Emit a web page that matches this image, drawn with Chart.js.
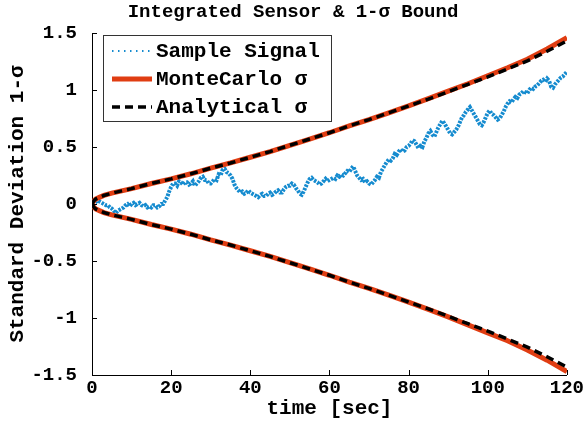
<!DOCTYPE html>
<html>
<head>
<meta charset="utf-8">
<title>Integrated Sensor</title>
<script src="https://cdn.jsdelivr.net/npm/chart.js@4.4.1/dist/chart.umd.min.js"></script>
<style>
  body { margin: 0; background: #fff; }
  #SensorChart { display: block; }
</style>
</head>
<body>
<canvas id="SensorChart" width="586" height="424"></canvas>
<script>
// integrated sensor output, one sample every 0.5 s from 0 to 120 s
var sampleStep = 0.5;
var sampleSignal = [
    0.00, 0.01, 0.02, 0.03, 0.02, 0.01, 0.00, -0.01, -0.01, -0.03, -0.04, -0.06, -0.08, -0.06, -0.05, -0.04, -0.03, -0.01, 0.00, -0.02,
    0.00, 0.01, -0.01, 0.00, 0.01, -0.01, -0.02, -0.01, -0.03, -0.02, -0.03, -0.01, -0.01, -0.03, -0.02, 0.00, 0.00, 0.03, 0.06, 0.11,
    0.15, 0.18, 0.18, 0.16, 0.20, 0.19, 0.17, 0.19, 0.19, 0.17, 0.18, 0.20, 0.16, 0.18, 0.20, 0.23, 0.24, 0.21, 0.21, 0.18,
    0.18, 0.20, 0.22, 0.21, 0.26, 0.25, 0.30, 0.31, 0.28, 0.27, 0.25, 0.22, 0.17, 0.14, 0.12, 0.10, 0.11, 0.09, 0.10, 0.12,
    0.10, 0.09, 0.08, 0.07, 0.06, 0.08, 0.09, 0.07, 0.07, 0.09, 0.10, 0.08, 0.09, 0.11, 0.12, 0.10, 0.10, 0.13, 0.15, 0.16,
    0.16, 0.18, 0.17, 0.14, 0.12, 0.09, 0.08, 0.11, 0.15, 0.19, 0.22, 0.23, 0.21, 0.20, 0.19, 0.17, 0.18, 0.20, 0.22, 0.20,
    0.21, 0.22, 0.23, 0.22, 0.25, 0.24, 0.26, 0.25, 0.27, 0.29, 0.28, 0.31, 0.33, 0.29, 0.25, 0.23, 0.21, 0.22, 0.19, 0.20,
    0.18, 0.17, 0.19, 0.21, 0.24, 0.23, 0.28, 0.31, 0.34, 0.37, 0.39, 0.38, 0.40, 0.44, 0.43, 0.46, 0.48, 0.46, 0.47, 0.50,
    0.51, 0.53, 0.56, 0.55, 0.52, 0.49, 0.51, 0.50, 0.55, 0.58, 0.62, 0.64, 0.61, 0.59, 0.63, 0.67, 0.70, 0.73, 0.71, 0.68,
    0.65, 0.62, 0.61, 0.63, 0.65, 0.68, 0.72, 0.76, 0.78, 0.81, 0.83, 0.85, 0.82, 0.79, 0.76, 0.73, 0.70, 0.69, 0.72, 0.76,
    0.80, 0.82, 0.79, 0.78, 0.76, 0.74, 0.75, 0.78, 0.81, 0.85, 0.88, 0.90, 0.89, 0.92, 0.94, 0.93, 0.96, 0.97, 0.99, 0.98,
    0.97, 1.00, 1.02, 1.01, 1.03, 1.04, 1.06, 1.08, 1.09, 1.07, 1.10, 1.08, 1.03, 1.02, 1.05, 1.07, 1.09, 1.11, 1.12, 1.14,
    1.16
];

// 1-sigma envelopes
var sigmaTime = [0, 0.5, 1, 2, 3, 5, 7.5, 10, 15, 20, 25, 30, 35, 40, 45, 50, 55, 60, 65, 70, 75, 80, 85, 90, 95, 100, 105, 110, 115, 120];
var mcUpper = [0, 0.03, 0.045, 0.06, 0.075, 0.095, 0.115, 0.135, 0.18, 0.22, 0.265, 0.315, 0.36, 0.41, 0.46, 0.515, 0.57, 0.625, 0.685, 0.74, 0.80, 0.86, 0.925, 0.99, 1.055, 1.125, 1.195, 1.27, 1.36, 1.46];
var mcLower = [0, -0.03, -0.045, -0.06, -0.075, -0.095, -0.115, -0.135, -0.18, -0.22, -0.265, -0.315, -0.36, -0.41, -0.46, -0.515, -0.57, -0.625, -0.685, -0.74, -0.80, -0.86, -0.925, -0.99, -1.06, -1.13, -1.20, -1.28, -1.37, -1.47];
var anUpper = [0, 0.03, 0.045, 0.06, 0.075, 0.095, 0.115, 0.135, 0.18, 0.22, 0.265, 0.315, 0.36, 0.41, 0.46, 0.515, 0.57, 0.625, 0.685, 0.74, 0.80, 0.86, 0.92, 0.985, 1.05, 1.115, 1.185, 1.255, 1.34, 1.43];
var anLower = [0, -0.03, -0.045, -0.06, -0.075, -0.095, -0.115, -0.135, -0.18, -0.22, -0.265, -0.315, -0.36, -0.41, -0.46, -0.515, -0.57, -0.625, -0.685, -0.74, -0.80, -0.86, -0.92, -0.985, -1.05, -1.115, -1.185, -1.255, -1.34, -1.43];

var xTicks = [0, 20, 40, 60, 80, 100, 120];
var yTicks = [-1.5, -1, -0.5, 0, 0.5, 1, 1.5];
var chartTitle = 'Integrated Sensor & 1-σ Bound';

var FONT = '"Liberation Mono", "Courier New", monospace';

function toPoints(xs, ys) {
    return ys.map(function (y, i) { return { x: xs[i], y: y }; });
}
var sampleTime = sampleSignal.map(function (v, i) { return i * sampleStep; });

// title centred on the whole figure, not on the plot area
var figTitle = {
    id: 'figTitle',
    afterDraw: function (chart) {
        var ctx = chart.ctx;
        ctx.save();
        ctx.font = 'bold 19px ' + FONT;
        ctx.fillStyle = '#000';
        ctx.textAlign = 'center';
        ctx.textBaseline = 'middle';
        ctx.fillText(chartTitle, chart.width / 2, 12);
        ctx.restore();
    }
};

// inward tick marks, axes have no box on top/right
var tickMarks = {
    id: 'tickMarks',
    afterDraw: function (chart) {
        var ctx = chart.ctx, area = chart.chartArea;
        var x = chart.scales.x, y = chart.scales.y;
        ctx.save();
        ctx.strokeStyle = '#000';
        ctx.lineWidth = 1;
        ctx.beginPath();
        xTicks.forEach(function (v) {
            var px = Math.round(x.getPixelForValue(v)) + 0.5;
            ctx.moveTo(px, area.bottom);
            ctx.lineTo(px, area.bottom - 5);
        });
        yTicks.forEach(function (v) {
            var py = Math.round(y.getPixelForValue(v)) + 0.5;
            ctx.moveTo(area.left, py);
            ctx.lineTo(area.left + 5, py);
        });
        ctx.stroke();
        ctx.restore();
    }
};

// legend box in the upper left corner of the axes
var boxLegend = {
    id: 'boxLegend',
    afterDraw: function (chart) {
        var ctx = chart.ctx, area = chart.chartArea;
        var left = area.left + 11, top = area.top + 2;
        var w = 228, h = 86;
        var items = chart.data.datasets.filter(function (d) { return d.inLegend; });
        ctx.save();
        ctx.fillStyle = '#fff';
        ctx.fillRect(left, top, w, h);
        ctx.strokeStyle = '#333';
        ctx.lineWidth = 1;
        ctx.strokeRect(left + 0.5, top + 0.5, w, h);
        ctx.font = 'bold 21px ' + FONT;
        ctx.textBaseline = 'middle';
        items.forEach(function (d, i) {
            var cy = top + 16 + i * 28;
            ctx.beginPath();
            ctx.strokeStyle = d.borderColor;
            ctx.lineWidth = i === 0 ? 2 : d.borderWidth;
            ctx.setLineDash(i === 0 ? [1.5, 4.5] : (d.borderDash || []));
            ctx.moveTo(left + 9, cy);
            ctx.lineTo(left + 49, cy);
            ctx.stroke();
            ctx.setLineDash([]);
            ctx.fillStyle = '#000';
            ctx.fillText(d.label, left + 53, cy + 1);
        });
        ctx.restore();
    }
};

var ctx = document.getElementById('SensorChart').getContext('2d');
var myChart = new Chart(ctx, {
    type: 'line',
    data: {
        datasets: [{
            label: 'Sample Signal',
            inLegend: true,
            data: toPoints(sampleTime, sampleSignal),
            borderColor: '#158bcf',
            borderWidth: 4,
            borderDash: [2.5, 1.2],
            order: 3
        }, {
            label: 'MonteCarlo σ',
            inLegend: true,
            data: toPoints(sigmaTime, mcUpper),
            borderColor: '#e03d12',
            borderWidth: 5,
            order: 2
        }, {
            label: 'MonteCarlo σ (lower)',
            data: toPoints(sigmaTime, mcLower),
            borderColor: '#e03d12',
            borderWidth: 5,
            order: 2
        }, {
            label: 'Analytical σ',
            inLegend: true,
            data: toPoints(sigmaTime, anUpper),
            borderColor: '#000',
            borderWidth: 3.5,
            borderDash: [8, 5],
            order: 1
        }, {
            label: 'Analytical σ (lower)',
            data: toPoints(sigmaTime, anLower),
            borderColor: '#000',
            borderWidth: 3.5,
            borderDash: [8, 5],
            order: 1
        }]
    },
    options: {
        responsive: false,
        animation: false,
        devicePixelRatio: 1,
        elements: {
            point: { radius: 0 },
            line: { tension: 0, fill: false, borderCapStyle: 'butt' }
        },
        layout: { padding: { left: 0, right: 19, top: 33, bottom: 0 } },
        scales: {
            x: {
                type: 'linear',
                min: 0,
                max: 120,
                afterFit: function (s) { s.height = 49; },
                afterBuildTicks: function (s) { s.ticks = xTicks.map(function (v) { return { value: v }; }); },
                grid: { display: true, drawOnChartArea: false, drawTicks: false },
                border: { display: true, color: '#000', width: 1 },
                ticks: { color: '#000', padding: 2, maxRotation: 0, font: { family: FONT, size: 19, weight: 'bold' } },
                title: {
                    display: true,
                    text: 'time [sec]',
                    color: '#000',
                    padding: { top: 0, bottom: 3 },
                    font: { family: FONT, size: 21, weight: 'bold' }
                }
            },
            y: {
                min: -1.5,
                max: 1.5,
                afterFit: function (s) { s.width = 92; },
                afterBuildTicks: function (s) { s.ticks = yTicks.map(function (v) { return { value: v }; }); },
                grid: { display: true, drawOnChartArea: false, drawTicks: false },
                border: { display: true, color: '#000', width: 1 },
                ticks: {
                    color: '#000',
                    padding: 15,
                    font: { family: FONT, size: 19, weight: 'bold' },
                    callback: function (v) { return String(v); }
                },
                title: {
                    display: true,
                    text: 'Standard Deviation 1-σ',
                    color: '#000',
                    padding: { top: 5, bottom: 0 },
                    font: { family: FONT, size: 21, weight: 'bold' }
                }
            }
        },
        plugins: {
            legend: { display: false },
            tooltip: { enabled: false },
            title: { display: false }
        }
    },
    plugins: [figTitle, tickMarks, boxLegend]
});
</script>
</body>
</html>
